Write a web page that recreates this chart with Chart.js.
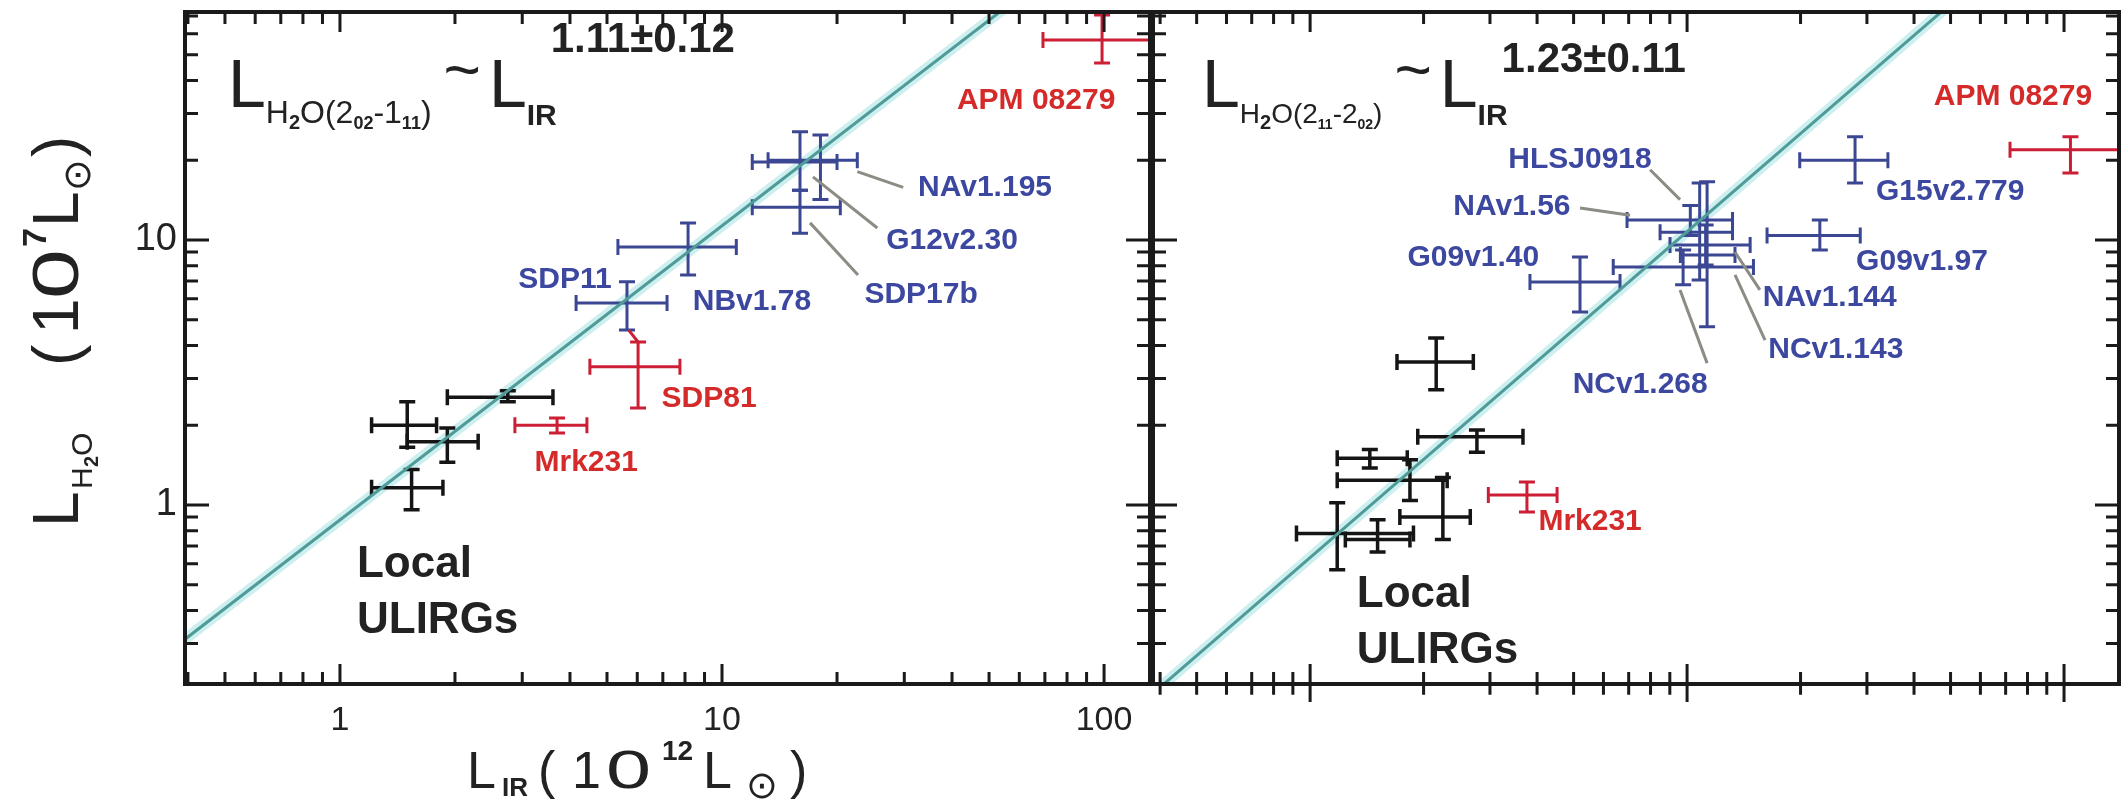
<!DOCTYPE html>
<html>
<head>
<meta charset="utf-8">
<script src="https://cdn.jsdelivr.net/npm/chart.js@4"></script>
<style>
  body { margin: 0; background: #fff; width: 2125px; height: 802px; position: relative; overflow: hidden; }
  canvas { position: absolute; top: 0; }
  #left { left: 0; }
  #right { left: 1151px; }
</style>
</head>
<body>
<canvas id="left" width="1152" height="802"></canvas>
<canvas id="right" width="974" height="802"></canvas>
<script>
const FONT = '"Liberation Sans", Arial, Helvetica, sans-serif';

// axis limits: L_IR in 1e12 Lsun, L_H2O in 1e7 Lsun
const xRangeLeft = [0.393, 131.9];
const xRangeRight = [0.383, 139.9];
const yRange = [0.211, 72.5];
const xMajor = [1, 10, 100];
const yMajor = [1, 10];

// power-law fits  L_H2O = norm * L_IR^slope
const fitLeft = { slope: 1.11, norm: 0.878 };
const fitRight = { slope: 1.23, norm: 0.633 };

// ---- H2O(2_02-1_11) ----
// local ULIRGs
const l1LocalX   = [1.50, 1.91, 1.54, 2.75];
const l1LocalY   = [2.00, 1.73, 1.16, 2.55];
const l1LocalXLo = [1.21, 1.50, 1.21, 1.91];
const l1LocalXHi = [1.79, 2.30, 1.86, 3.61];
const l1LocalYLo = [1.65, 1.45, 0.96, 2.45];
const l1LocalYHi = [2.45, 1.95, 1.36, 2.70];
// Mrk231, SDP81, APM 08279
const l1RedX   = [3.70, 6.03, 98.8];
const l1RedY   = [2.00, 3.32, 56.8];
const l1RedXLo = [2.87, 4.51, 69.2];
const l1RedXHi = [4.43, 7.76, 140];
const l1RedYLo = [1.87, 2.32, 46.5];
const l1RedYHi = [2.13, 4.12, 70.6];
// SDP11, NBv1.78, NAv1.195, SDP17b, G12v2.30
const l1HerX   = [5.64, 8.15, 18.1, 16.0, 16.0];
const l1HerY   = [5.78, 9.41, 20.0, 19.7, 13.3];
const l1HerXLo = [4.15, 5.34, 13.2, 12.0, 12.0];
const l1HerXHi = [7.18, 10.9, 22.6, 20.0, 20.4];
const l1HerYLo = [4.57, 7.38, 14.2, 15.4, 10.6];
const l1HerYHi = [6.95, 11.6, 24.9, 25.6, 15.4];

const l1BlueLabels = [['SDP11', 3.88, 7.06], ['NBv1.78', 11.98, 5.83], ['NAv1.195', 48.8, 15.7],
                      ['G12v2.30', 40.0, 9.92], ['SDP17b', 33.2, 6.20]];
const l1RedLabels = [['APM 08279', 66.4, 33.5], ['SDP81', 9.25, 2.51], ['Mrk231', 4.41, 1.44]];
const l1Leaders = [[22.6, 18.1, 29.8, 15.8], [17.3, 17.3, 25.5, 11.1], [17.0, 11.6, 22.7, 7.38]];
const l1RedLeaders = [[6.03, 4.12, 5.70, 4.57]];
const l1LocalText = [1.108, 0.535, 0.329];

// ---- H2O(2_11-2_02) ----
const l2LocalX   = [2.16, 2.77, 1.44, 1.84, 2.25, 1.18, 1.51];
const l2LocalY   = [3.46, 1.81, 1.50, 1.24, 0.90, 0.78, 0.74];
const l2LocalXLo = [1.70, 1.93, 1.18, 1.18, 1.73, 0.92, 1.24];
const l2LocalXHi = [2.71, 3.67, 1.81, 2.31, 2.66, 1.88, 1.84];
const l2LocalYLo = [2.72, 1.58, 1.38, 1.04, 0.74, 0.57, 0.665];
const l2LocalYHi = [4.27, 1.92, 1.62, 1.48, 1.27, 1.02, 0.88];
// Mrk231, APM 08279
const l2RedX   = [3.76, 104];
const l2RedY   = [1.09, 21.9];
const l2RedXLo = [2.97, 71.9];
const l2RedXHi = [4.52, 160];
const l2RedYLo = [0.94, 17.9];
const l2RedYHi = [1.22, 24.5];
// G09v1.40, G09v1.97, G15v2.779, HLSJ0918, NAv1.56, NAv1.144, NCv1.268, NCv1.143
const l2HerX   = [5.20, 22.5, 27.9, 10.8, 10.2, 11.2, 11.3, 9.76];
const l2HerY   = [6.94, 10.4, 20.0, 10.7, 11.9, 9.57, 8.78, 7.91];
const l2HerXLo = [3.83, 16.3, 19.9, 8.48, 6.93, 9.01, 9.60, 6.37];
const l2HerXHi = [6.64, 28.8, 34.1, 13.2, 13.2, 14.7, 13.4, 15.0];
const l2HerYLo = [5.35, 9.17, 16.4, 7.06, 10.4, 8.05, 4.70, 6.77];
const l2HerYHi = [8.63, 11.9, 24.5, 16.4, 13.5, 11.4, 16.6, 9.17];

const l2BlueLabels = [['HLSJ0918', 5.20, 20.0], ['NAv1.56', 3.43, 13.3], ['G09v1.40', 2.71, 8.55],
                      ['NCv1.268', 7.51, 2.84], ['NAv1.144', 23.9, 6.04], ['NCv1.143', 24.8, 3.85],
                      ['G09v1.97', 42.0, 8.26], ['G15v2.779', 49.9, 15.2]];
const l2RedLabels = [['APM 08279', 73.2, 34.7], ['Mrk231', 5.53, 0.863]];
const l2Leaders = [[7.98, 18.4, 9.58, 14.2], [5.20, 13.2, 7.06, 12.4], [9.58, 6.48, 11.3, 3.43],
                   [13.4, 9.01, 15.6, 6.48], [13.4, 7.38, 16.1, 4.19]];
const l2LocalText = [1.33, 0.412, 0.253];

const BLACK = '#151515', RED = '#cc1f36', BLUE = '#3b4792';
const RED_TXT = '#d42a2a', BLUE_TXT = '#3c47a0', LEADER = '#8c8c84';

function group(x, y, xLo, xHi, yLo, yHi, color, width) {
  return { x, y, xLo, xHi, yLo, yHi, color, width };
}

function fitPoints(fit, xr) {
  return xr.map(v => ({ x: v, y: fit.norm * Math.pow(v, fit.slope) }));
}

// draw a run of text pieces of different sizes / offsets (sub- and superscripts)
function rich(ctx, x, y, parts) {
  ctx.textAlign = 'left';
  ctx.textBaseline = 'alphabetic';
  for (const [t, size, dy, bold, gap] of parts) {
    ctx.font = (bold ? 'bold ' : '') + size + 'px ' + FONT;
    ctx.fillText(t, x, y + (dy || 0));
    x += ctx.measureText(t).width + (gap || 0);
  }
}

// same, but every piece sits at its own offset along the baseline (sx widens a glyph)
function placed(ctx, x, y, parts) {
  ctx.textAlign = 'left';
  ctx.textBaseline = 'alphabetic';
  for (const [t, size, dx, dy, bold, sx] of parts) {
    ctx.font = (bold ? 'bold ' : '') + size + 'px ' + FONT;
    ctx.save();
    ctx.translate(x + dx, y + dy);
    if (sx) ctx.scale(sx, 1);
    ctx.fillText(t, 0, 0);
    ctx.restore();
  }
}

const errorBars = {
  id: 'errorBars',
  afterDatasetDraw(chart, args) {
    if (args.index !== 0) return; // right after the halo of the fit line
    const { ctx, chartArea: a, scales: { x, y } } = chart;
    const cap = 8;
    ctx.save();
    ctx.beginPath();
    ctx.rect(a.left, a.top, a.right - a.left, a.bottom - a.top);
    ctx.clip();
    ctx.lineCap = 'butt';
    for (const ds of chart.data.datasets) {
      const g = ds.err;
      if (!g) continue;
      ctx.strokeStyle = g.color;
      ctx.lineWidth = g.width;
      g.x.forEach((xv, i) => {
        const px = x.getPixelForValue(xv), py = y.getPixelForValue(g.y[i]);
        const x0 = x.getPixelForValue(g.xLo[i]), x1 = x.getPixelForValue(g.xHi[i]);
        const y0 = y.getPixelForValue(g.yLo[i]), y1 = y.getPixelForValue(g.yHi[i]);
        ctx.beginPath();
        ctx.moveTo(x0, py); ctx.lineTo(x1, py);
        ctx.moveTo(x0, py - cap); ctx.lineTo(x0, py + cap);
        ctx.moveTo(x1, py - cap); ctx.lineTo(x1, py + cap);
        ctx.moveTo(px, y0); ctx.lineTo(px, y1);
        ctx.moveTo(px - cap, y0); ctx.lineTo(px + cap, y0);
        ctx.moveTo(px - cap, y1); ctx.lineTo(px + cap, y1);
        ctx.stroke();
      });
    }
    ctx.restore();
  }
};

function logTicks(min, max) {
  const out = [];
  for (let e = Math.floor(Math.log10(min)); e <= Math.ceil(Math.log10(max)); e++) {
    for (let m = 1; m < 10; m++) {
      const v = m * Math.pow(10, e);
      if (v >= min && v <= max) out.push({ v, major: m === 1 });
    }
  }
  return out;
}

const frame = {
  id: 'frame',
  afterDraw(chart) {
    const o = chart.options.plugins.frame;
    const { ctx, chartArea: a, scales: { x, y } } = chart;
    const seg = ([x0, y0, x1, y1]) => {
      ctx.beginPath();
      ctx.moveTo(x.getPixelForValue(x0), y.getPixelForValue(y0));
      ctx.lineTo(x.getPixelForValue(x1), y.getPixelForValue(y1));
      ctx.stroke();
    };
    ctx.save();

    // leader lines and labels
    ctx.lineWidth = 3;
    ctx.strokeStyle = LEADER;
    o.leaders.forEach(seg);
    ctx.strokeStyle = RED;
    o.redLeaders.forEach(seg);
    ctx.textAlign = 'center';
    ctx.textBaseline = 'middle';
    ctx.font = 'bold 30px ' + FONT;
    ctx.fillStyle = BLUE_TXT;
    for (const [t, xv, yv] of o.blueLabels) ctx.fillText(t, x.getPixelForValue(xv), y.getPixelForValue(yv));
    ctx.fillStyle = RED_TXT;
    for (const [t, xv, yv] of o.redLabels) ctx.fillText(t, x.getPixelForValue(xv), y.getPixelForValue(yv));

    ctx.fillStyle = '#222';
    ctx.textAlign = 'left';
    ctx.textBaseline = 'alphabetic';
    ctx.font = 'bold 44px ' + FONT;
    const [lx, ly1, ly2] = o.localText;
    ctx.fillText('Local', x.getPixelForValue(lx), y.getPixelForValue(ly1));
    ctx.fillText('ULIRGs', x.getPixelForValue(lx), y.getPixelForValue(ly2));

    // box
    ctx.strokeStyle = '#1a1a1a';
    ctx.lineWidth = 4;
    ctx.strokeRect(a.left, a.top, a.right - a.left, a.bottom - a.top);

    // minor / major ticks on all four sides
    ctx.lineWidth = 3;
    const both = o.crossTicks;
    ctx.beginPath();
    for (const t of logTicks(x.min, x.max)) {
      const px = x.getPixelForValue(t.v), L = t.major ? 20 : 12;
      ctx.moveTo(px, a.bottom + (both ? L * 0.9 : 0)); ctx.lineTo(px, a.bottom - L);
      ctx.moveTo(px, a.top); ctx.lineTo(px, a.top + L);
    }
    for (const t of logTicks(y.min, y.max)) {
      const py = y.getPixelForValue(t.v), L = t.major ? 24 : 13;
      ctx.moveTo(a.left - (both ? L * 0.8 : 0), py); ctx.lineTo(a.left + L, py);
      ctx.moveTo(a.right, py); ctx.lineTo(a.right - L, py);
    }
    ctx.stroke();

    ctx.fillStyle = '#222';
    rich(ctx, o.titleX, 107, o.title);
    if (o.axisTitles) {
      placed(ctx, 467, 788, [['L', 52, 0, 0], ['IR', 26, 35, 8, true], ['(', 52, 71, 0], ['1', 52, 105, 0],
        ['0', 54, 139, 0, false, 1.5], ['12', 28, 195, -28, true], ['L', 52, 236, 0], ['\u2299', 38, 279, 10],
        [')', 52, 323, 0]]);
      ctx.save();
      ctx.translate(78, 527);
      ctx.rotate(-Math.PI / 2);
      placed(ctx, 0, 0, [['L', 64, 0, 0], ['H', 30, 38, 14], ['2', 20, 60, 20, true], ['O', 30, 71, 14],
        ['(', 64, 161, 0], ['1', 64, 193, 0], ['0', 64, 228, 0, false, 1.4], ['7', 34, 280, -32, true],
        ['L', 64, 300, 0], ['\u2299', 38, 336, 12], [')', 64, 370, 0]]);
      ctx.restore();
    }
    ctx.restore();
  }
};

function titleParts(sub, lo, mid, hi, exp, expDy) {
  const t = sub - 14;
  return [['L', 68, 0], ['H', sub, 16], ['2', 20, 22, true], ['O(2', sub, 16], [lo, t, 22, true],
    ['-' + mid, sub, 16], [hi, t, 22, true], [')', sub, 16, false, 12], ['~', 64, -15, false, 8],
    ['L', 68, 0], ['IR', 30, 18, true, -6], [exp, 42, expDy, true]];
}

function makePanel(id, cfg) {
  const datasets = [
    { type: 'line', data: fitPoints(cfg.fit, cfg.xRange), borderColor: '#cdeff0', borderWidth: 11, pointRadius: 0, order: 3 },
    { type: 'line', data: fitPoints(cfg.fit, cfg.xRange), borderColor: '#4f9b98', borderWidth: 3, pointRadius: 0, order: 1 },
    ...cfg.groups.map(g => ({ data: g.x.map((v, i) => ({ x: v, y: g.y[i] })), pointRadius: 0, err: g, order: 2 }))
  ];
  const axisFont = size => ({ size, family: FONT });
  return new Chart(document.getElementById(id), {
    type: 'scatter',
    data: { datasets },
    options: {
      responsive: false,
      animation: false,
      devicePixelRatio: 1,
      layout: { padding: cfg.padding },
      plugins: {
        legend: { display: false },
        tooltip: { enabled: false },
        frame: cfg.frame
      },
      scales: {
        x: {
          type: 'logarithmic', bounds: 'data', min: cfg.xRange[0], max: cfg.xRange[1], display: cfg.showAxes,
          grid: { display: false, drawTicks: false }, border: { display: false },
          ticks: { font: axisFont(34), color: '#222', padding: 16, maxRotation: 0, autoSkip: false, callback: v => String(v) },
          afterBuildTicks: s => { s.ticks = xMajor.map(v => ({ value: v })); },
          afterFit: s => { s.height = cfg.xHeight; s.paddingLeft = 0; s.paddingRight = 0; }
        },
        y: {
          type: 'logarithmic', bounds: 'data', min: yRange[0], max: yRange[1], display: cfg.showAxes,
          grid: { display: false, drawTicks: false }, border: { display: false },
          ticks: { font: axisFont(38), color: '#222', padding: 8, autoSkip: false, callback: v => String(v) },
          afterBuildTicks: s => { s.ticks = yMajor.map(v => ({ value: v })); },
          afterFit: s => { s.width = cfg.yWidth; s.paddingTop = 0; s.paddingBottom = 0; }
        }
      }
    },
    plugins: [errorBars, frame]
  });
}

makePanel('left', {
  xRange: xRangeLeft,
  fit: fitLeft,
  showAxes: true,
  xHeight: 118, yWidth: 185,
  padding: { left: 0, top: 12, right: 2, bottom: 0 },
  groups: [
    group(l1LocalX, l1LocalY, l1LocalXLo, l1LocalXHi, l1LocalYLo, l1LocalYHi, BLACK, 3.5),
    group(l1RedX, l1RedY, l1RedXLo, l1RedXHi, l1RedYLo, l1RedYHi, RED, 3),
    group(l1HerX, l1HerY, l1HerXLo, l1HerXHi, l1HerYLo, l1HerYHi, BLUE, 3)
  ],
  frame: {
    blueLabels: l1BlueLabels, redLabels: l1RedLabels, leaders: l1Leaders, redLeaders: l1RedLeaders,
    localText: l1LocalText, crossTicks: false,
    titleX: 228, title: titleParts(32, '02', '1', '11', '1.11\u00b10.12', -55), axisTitles: true
  }
});

makePanel('right', {
  xRange: xRangeRight,
  fit: fitRight,
  showAxes: false,
  xHeight: 118, yWidth: 2,
  padding: { left: 0, top: 12, right: 6, bottom: 0 },
  groups: [
    group(l2LocalX, l2LocalY, l2LocalXLo, l2LocalXHi, l2LocalYLo, l2LocalYHi, BLACK, 3.5),
    group(l2RedX, l2RedY, l2RedXLo, l2RedXHi, l2RedYLo, l2RedYHi, RED, 3),
    group(l2HerX, l2HerY, l2HerXLo, l2HerXHi, l2HerYLo, l2HerYHi, BLUE, 3)
  ],
  frame: {
    blueLabels: l2BlueLabels, redLabels: l2RedLabels, leaders: l2Leaders, redLeaders: [],
    localText: l2LocalText, crossTicks: true,
    titleX: 51, title: titleParts(28, '11', '2', '02', '1.23\u00b10.11', -35), axisTitles: false
  }
});
</script>
</body>
</html>
